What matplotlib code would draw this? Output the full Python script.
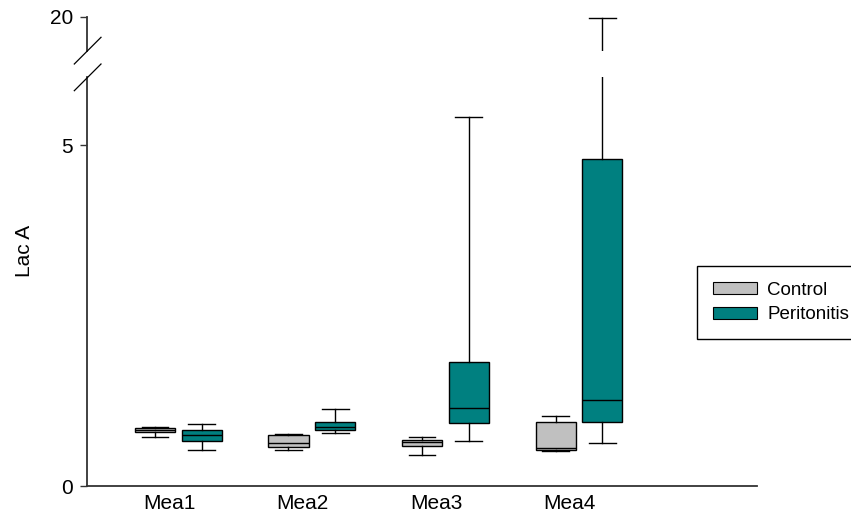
import matplotlib
matplotlib.use("Agg")
import matplotlib.pyplot as plt
from matplotlib.lines import Line2D
from matplotlib.patches import Patch

plt.rcParams['font.family'] = ['Liberation Sans', 'DejaVu Sans']

# ---- data ----
groups = ["Mea1", "Mea2", "Mea3", "Mea4"]
series = ["Control", "Peritonitis"]

control_whislo = [0.715, 0.534, 0.46, 0.519]
control_q1 = [0.789, 0.569, 0.583, 0.524]
control_med = [0.823, 0.627, 0.64, 0.554]
control_q3 = [0.857, 0.754, 0.676, 0.940]
control_whishi = [0.871, 0.759, 0.725, 1.033]

perit_whislo = [0.534, 0.779, 0.666, 0.636]
perit_q1 = [0.657, 0.818, 0.921, 0.936]
perit_med = [0.745, 0.871, 1.150, 1.259]
perit_q3 = [0.818, 0.940, 1.822, 4.79]
perit_whishi = [0.906, 1.131, 5.42, 19.9]

colors = ["#C0C0C0", "#008080"]

# ---- layout helpers ----
W, H = 851, 522
fig = plt.figure(figsize=(W / 100, H / 100), dpi=100)


def fx(px):
    return px / W


def fy(py):
    return 1 - py / H


ax = fig.add_axes([fx(87), fy(486), fx(757) - fx(87), fy(77) - fy(486)])
axu = fig.add_axes([fx(87), fy(51), fx(757) - fx(87), fy(17) - fy(51)])


def make_stats(lo, q1, med, q3, hi):
    return [dict(whislo=a, q1=b, med=c, q3=d, whishi=e, fliers=[])
            for a, b, c, d, e in zip(lo, q1, med, q3, hi)]


ctrl_stats = make_stats(control_whislo, control_q1, control_med, control_q3, control_whishi)
perit_stats = make_stats(perit_whislo, perit_q1, perit_med, perit_q3, perit_whishi)

offset = 0.175
for a in (ax, axu):
    for stats, col, sgn in ((ctrl_stats, colors[0], -1), (perit_stats, colors[1], 1)):
        a.bxp(stats, positions=[i + sgn * offset for i in range(len(groups))],
              widths=0.3, capwidths=0.2, patch_artist=True, manage_ticks=False,
              showfliers=False,
              boxprops=dict(facecolor=col, edgecolor='black', linewidth=1.0),
              medianprops=dict(color='black', linewidth=1.0),
              whiskerprops=dict(color='black', linewidth=1.0),
              capprops=dict(color='black', linewidth=1.0))
    a.set_xlim(-0.683, 4.332)
    for s in ('top', 'right'):
        a.spines[s].set_visible(False)
    a.spines['left'].set_color('#333333')
    a.spines['left'].set_linewidth(1.3)
    a.tick_params(axis='y', length=5, width=1, color='#333333', pad=5, labelsize=15)

ax.set_ylim(0, 6.0)
axu.set_ylim(15, 20)
ax.set_yticks([0, 5])
axu.set_yticks([20])
axu.set_xticks([])
axu.spines['bottom'].set_visible(False)
axu.patch.set_visible(False)

ax.spines['bottom'].set_color('#333333')
ax.spines['bottom'].set_linewidth(1.3)
ax.set_xticks([i - 0.069 for i in range(len(groups))])
ax.set_xticklabels(groups)
ax.tick_params(axis='x', length=0, pad=6, labelsize=15)

# axis break marks
for (x0, y0, x1, y1) in ((74.3, 64, 101, 37.3), (74.3, 90.7, 101, 64)):
    fig.add_artist(Line2D([fx(x0), fx(x1)], [fy(y0), fy(y1)], color='black', lw=0.9))

fig.text(fx(24), fy(251), 'Lac A', rotation=90, ha='center', va='center', fontsize=15)

handles = [Patch(facecolor=c, edgecolor='black', linewidth=0.8, label=l)
           for c, l in zip(colors, series)]
leg = fig.legend(handles=handles, loc='upper left',
                 bbox_to_anchor=(fx(697), fy(266)), bbox_transform=fig.transFigure,
                 frameon=True, fancybox=False, edgecolor='black', framealpha=1,
                 fontsize=13.5, handlelength=2.33, handleheight=0.6, handletextpad=0.56,
                 borderpad=0.85, labelspacing=0.4, borderaxespad=0)
leg.get_frame().set_linewidth(1.0)

fig.savefig('out.png', dpi=100)
